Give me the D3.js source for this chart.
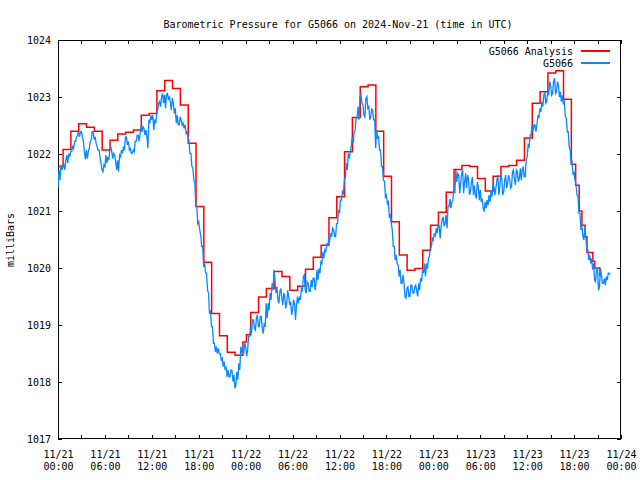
<!DOCTYPE html>
<html><head><meta charset="utf-8">
<script src="https://cdn.jsdelivr.net/npm/d3@7"></script>
<style>
body{margin:0;background:#fff}
svg{display:block}
</style>
</head><body><svg id="c" width="640" height="480"></svg>
<script>
// ---- data ----
const titleText = "Barometric Pressure for G5066 on 2024-Nov-21 (time in UTC)";
const yLabelText = "milliBars";
const seriesNames = ["G5066 Analysis", "G5066"];
const startTime = "2024-11-21T00:00:00Z";
const yTicks = [1017, 1018, 1019, 1020, 1021, 1022, 1023, 1024];
// analysis: hours since start
const anaHours = [-0.35,0.65,1.65,2.65,3.65,4.65,5.65,6.65,7.65,8.65,9.65,10.65,11.65,12.65,13.65,14.65,15.65,16.65,17.65,18.65,19.65,20.65,21.65,22.65,23.65,24.1,24.65,25.65,26.65,27.65,28.65,29.65,30.65,31.65,32.65,33.65,34.65,35.65,36.65,37.65,38.65,39.65,40.65,41.65,42.65,43.65,44.65,45.65,46.65,47.65,48.65,49.65,50.65,51.65,52.65,53.65,54.65,55.65,56.65,57.65,58.65,59.65,60.65,61.65,62.65,63.65,64.65,65.65,66.2,66.65,67.0,67.4,67.65,68.4,68.65,69.3];
const anaValues = [1021.78,1022.08,1022.40,1022.53,1022.47,1022.40,1022.07,1022.24,1022.35,1022.38,1022.42,1022.68,1022.71,1023.11,1023.29,1023.15,1022.86,1022.19,1021.08,1020.10,1019.20,1018.81,1018.52,1018.47,1018.70,1018.83,1019.22,1019.49,1019.64,1019.94,1019.85,1019.61,1019.68,1019.98,1020.19,1020.40,1020.88,1021.25,1022.04,1022.64,1023.18,1023.21,1022.40,1021.61,1020.81,1020.23,1019.96,1019.99,1020.31,1020.75,1020.98,1021.33,1021.73,1021.80,1021.78,1021.57,1021.35,1021.61,1021.78,1021.80,1021.89,1022.28,1022.89,1023.09,1023.42,1023.46,1022.96,1021.82,1021.45,1021.00,1020.75,1020.55,1020.27,1020.12,1020.00,1019.85];
// observations every 7.5 minutes from start (one hour per line)
const obsStepMinutes = 7.5;
const obsValues = [
1021.40,1021.72,1021.54,1021.81,1021.72,1021.78,1021.81,1021.72,
1021.89,1021.98,1021.84,1022.01,1021.95,1022.04,1022.04,1022.13,
1022.10,1022.22,1022.22,1022.30,1022.33,1022.39,1022.30,1022.39,
1022.39,1022.30,1022.22,1022.04,1021.91,1022.07,1021.92,1022.04,
1022.10,1022.22,1022.25,1022.39,1022.39,1022.25,1022.30,1022.19,
1022.13,1022.07,1022.07,1021.95,1021.84,1021.72,1021.69,1021.81,
1021.78,1021.98,1021.84,1021.95,1021.89,1022.07,1022.13,1022.04,
1021.92,1022.01,1021.98,1021.87,1021.72,1021.89,1021.69,1021.98,
1021.95,1022.07,1022.01,1022.13,1022.07,1022.30,1022.30,1022.16,
1022.22,1022.07,1022.10,1022.01,1022.01,1022.07,1022.04,1022.22,
1022.22,1022.33,1022.33,1022.22,1022.36,1022.48,1022.39,1022.48,
1022.45,1022.33,1022.42,1022.30,1022.10,1022.60,1022.54,1022.68,
1022.60,1022.68,1022.42,1022.60,1022.54,1022.71,1022.77,1022.89,
1022.92,1022.83,1023.01,1023.06,1022.89,1023.04,1022.80,1023.04,
1023.06,1022.95,1023.01,1022.89,1022.77,1022.98,1022.89,1022.71,
1022.80,1022.54,1022.68,1022.51,1022.51,1022.65,1022.60,1022.51,
1022.54,1022.45,1022.51,1022.36,1022.39,1022.30,1022.22,1022.01,
1022.01,1021.78,1021.75,1021.54,1021.49,1021.08,1021.08,1020.78,
1020.81,1020.67,1020.58,1020.38,1020.38,1020.02,1020.08,1019.91,
1019.91,1019.61,1019.56,1019.20,1019.26,1018.97,1018.97,1018.68,
1018.68,1018.53,1018.62,1018.50,1018.59,1018.50,1018.50,1018.39,
1018.42,1018.27,1018.36,1018.21,1018.27,1018.09,1018.21,1018.09,
1018.09,1018.21,1018.21,1018.01,1018.12,1017.89,1017.95,1018.18,
1018.04,1018.33,1018.21,1018.62,1018.50,1018.62,1018.50,1018.68,
1018.62,1018.45,1018.56,1018.80,1018.80,1018.97,1018.85,1019.09,
1019.09,1018.94,1018.91,1019.12,1019.18,1018.97,1018.97,1019.15,
1019.15,1018.94,1018.85,1019.03,1018.97,1019.38,1019.12,1019.38,
1019.26,1019.56,1019.44,1019.73,1019.61,1019.97,1019.79,1019.56,
1019.67,1019.44,1019.38,1019.59,1019.64,1019.47,1019.35,1019.56,
1019.50,1019.29,1019.38,1019.61,1019.50,1019.35,1019.41,1019.18,
1019.26,1019.44,1019.38,1019.09,1019.35,1019.50,1019.38,1019.50,
1019.44,1019.64,1019.61,1019.85,1019.88,1019.61,1019.56,1019.76,
1019.73,1019.59,1019.59,1019.79,1019.67,1019.82,1019.82,1019.61,
1019.73,1019.97,1019.79,1019.99,1019.91,1020.11,1020.08,1020.29,
1020.17,1020.32,1020.29,1020.43,1020.38,1020.52,1020.49,1020.61,
1020.55,1020.70,1020.67,1020.55,1020.55,1020.78,1020.78,1021.02,
1020.96,1021.19,1021.19,1021.34,1021.31,1021.54,1021.60,1021.84,
1021.72,1022.01,1021.92,1022.04,1022.13,1022.30,1022.19,1022.39,
1022.42,1022.63,1022.63,1022.83,1022.60,1023.01,1023.04,1022.89,
1022.86,1022.68,1022.65,1022.98,1023.01,1022.80,1022.83,1022.60,
1022.65,1022.80,1022.74,1022.60,1022.60,1022.10,1022.42,1022.28,
1022.30,1022.07,1022.07,1021.78,1021.78,1021.54,1021.52,1021.25,
1021.28,1021.13,1021.16,1020.90,1020.93,1020.78,1020.67,1020.38,
1020.38,1020.14,1020.23,1020.08,1020.05,1019.85,1019.97,1019.73,
1019.73,1019.88,1019.73,1019.50,1019.47,1019.64,1019.67,1019.50,
1019.50,1019.70,1019.70,1019.56,1019.56,1019.67,1019.70,1019.59,
1019.50,1019.73,1019.61,1019.82,1019.76,1019.97,1019.91,1020.08,
1019.85,1020.08,1019.99,1020.17,1020.20,1020.37,1020.37,1020.52,
1020.49,1020.61,1020.55,1020.70,1020.61,1020.78,1020.73,1020.52,
1020.73,1020.85,1020.90,1020.73,1020.78,1020.93,1020.70,1021.08,
1021.08,1021.21,1021.05,1021.16,1021.19,1021.43,1021.31,1021.72,
1021.51,1021.66,1021.63,1021.31,1021.49,1021.66,1021.72,1021.31,
1021.51,1021.66,1021.40,1021.63,1021.57,1021.28,1021.34,1021.51,
1021.60,1021.28,1021.45,1021.28,1021.22,1021.51,1021.43,1021.19,
1021.37,1021.16,1021.22,1021.05,1020.99,1021.16,1021.05,1021.19,
1021.10,1021.28,1021.16,1021.34,1021.25,1021.46,1021.43,1021.28,
1021.40,1021.54,1021.63,1021.28,1021.43,1021.63,1021.57,1021.28,
1021.34,1021.54,1021.63,1021.40,1021.49,1021.63,1021.57,1021.40,
1021.43,1021.69,1021.72,1021.54,1021.46,1021.72,1021.69,1021.51,
1021.57,1021.75,1021.54,1021.72,1021.78,1021.60,1021.60,1021.89,
1021.95,1022.16,1022.13,1022.33,1022.33,1022.51,1022.39,1022.51,
1022.51,1022.39,1022.51,1022.68,1022.63,1022.80,1022.74,1022.92,
1022.83,1023.03,1023.09,1022.89,1022.92,1023.09,1023.03,1023.27,
1023.21,1023.03,1023.06,1023.27,1023.33,1023.06,1023.09,1023.27,
1023.21,1023.00,1023.09,1022.92,1023.03,1022.89,1022.92,1022.66,
1022.63,1022.39,1022.39,1022.13,1022.07,1021.84,1021.86,1021.63,
1021.69,1021.54,1021.46,1021.28,1021.25,1020.96,1020.96,1020.67,
1020.75,1020.55,1020.49,1020.70,1020.55,1020.32,1020.32,1020.14,
1020.23,1020.08,1020.17,1019.97,1020.08,1019.79,1019.76,1019.99,
1019.97,1019.61,1019.67,1019.99,1019.88,1019.73,1019.73,1019.82,
1019.70,1019.85,1019.79,1019.91,1019.91,1019.88
];
const xDomainHours = 72;

// ---- build ----
const W = 640, H = 480;
const m = {left: 58, right: 621, top: 40, bottom: 439};
const t0 = new Date(startTime);
const hr = h => new Date(t0.getTime() + h * 3600e3);
const x = d3.scaleUtc().domain([t0, hr(xDomainHours)]).range([m.left, m.right]);
const y = d3.scaleLinear().domain([yTicks[0], yTicks[yTicks.length - 1]]).range([m.bottom, m.top]);
const font = '"DejaVu Sans Mono", "Liberation Mono", monospace';
const red = "#ff0000", blue = "#0a88ff";

const svg = d3.select("#c");
svg.append("rect").attr("width", W).attr("height", H).attr("fill", "#fff");

svg.append("defs").append("clipPath").attr("id", "clip")
  .append("rect").attr("x", m.left).attr("y", m.top)
  .attr("width", m.right - m.left).attr("height", m.bottom - m.top);

const fmt1 = d3.utcFormat("%m/%d"), fmt2 = d3.utcFormat("%H:%M");

// bottom axis
svg.append("g").attr("transform", `translate(0,${m.bottom})`)
  .call(d3.axisBottom(x).ticks(d3.utcHour.every(3)).tickSizeInner(-4).tickSizeOuter(0).tickFormat(""));
const gxl = svg.append("g").attr("transform", `translate(0,${m.bottom})`)
  .call(d3.axisBottom(x).ticks(d3.utcHour.every(6)).tickSize(0).tickPadding(0).tickFormat(""));
gxl.selectAll(".tick").each(function(d) {
  const t = d3.select(this).append("text").attr("fill", "#000").attr("text-anchor", "middle");
  t.append("tspan").attr("x", 0).attr("y", 19).text(fmt1(d));
  t.append("tspan").attr("x", 0).attr("y", 31).text(fmt2(d));
});
// top axis (mirror)
svg.append("g").attr("transform", `translate(0,${m.top})`)
  .call(d3.axisTop(x).ticks(d3.utcHour.every(3)).tickSizeInner(-4).tickSizeOuter(0).tickFormat(""));
// left axis
svg.append("g").attr("transform", `translate(${m.left},0)`)
  .call(d3.axisLeft(y).tickValues(yTicks).tickSizeInner(-4).tickSizeOuter(0).tickPadding(7).tickFormat(d3.format("d")));
// right axis mirror
svg.append("g").attr("transform", `translate(${m.right},0)`)
  .call(d3.axisRight(y).tickValues(yTicks).tickSizeInner(-4).tickSizeOuter(0).tickFormat(""));

svg.selectAll(".domain").remove();
svg.selectAll(".tick line").attr("stroke", "#000").attr("shape-rendering", "crispEdges");
svg.selectAll("g").attr("font-family", font).attr("font-size", 10);
svg.selectAll(".tick text").attr("fill", "#000");

// border
svg.append("rect").attr("x", m.left + 0.5).attr("y", m.top + 0.5)
  .attr("width", m.right - m.left - 1).attr("height", m.bottom - m.top - 1)
  .attr("fill", "none").attr("stroke", "#000").attr("stroke-width", 1).attr("shape-rendering", "crispEdges");

// series
const anaData = anaHours.map((h, i) => ({t: hr(h), v: anaValues[i]}));
const obsData = obsValues.map((v, i) => ({t: hr(i * obsStepMinutes / 60), v}));
const plot = svg.append("g").attr("clip-path", "url(#clip)");
plot.append("path").datum(anaData)
  .attr("d", d3.line().x(d => x(d.t)).y(d => y(d.v)).curve(d3.curveStepAfter))
  .attr("fill", "none").attr("stroke", red).attr("stroke-width", 1.5);
plot.append("path").datum(obsData)
  .attr("d", d3.line().x(d => x(d.t)).y(d => y(d.v)))
  .attr("fill", "none").attr("stroke", blue).attr("stroke-width", 1.3);

// title
svg.append("text").attr("x", 338).attr("y", 28).attr("text-anchor", "middle")
  .attr("font-family", font).attr("font-size", 10).text(titleText);
// y label
svg.append("text").attr("transform", "translate(14,240) rotate(-90)").attr("text-anchor", "middle")
  .attr("font-family", font).attr("font-size", 10).text(yLabelText);

// legend
const legColors = [red, blue];
seriesNames.forEach((n, i) => {
  const yy = 51 + i * 12;
  svg.append("text").attr("x", 573).attr("y", yy + 3.5).attr("text-anchor", "end")
    .attr("font-family", font).attr("font-size", 10).text(n);
  svg.append("line").attr("x1", 581).attr("x2", 610).attr("y1", yy).attr("y2", yy)
    .attr("stroke", legColors[i]).attr("stroke-width", 1.4).attr("shape-rendering", "crispEdges");
});
</script>
</body></html>
